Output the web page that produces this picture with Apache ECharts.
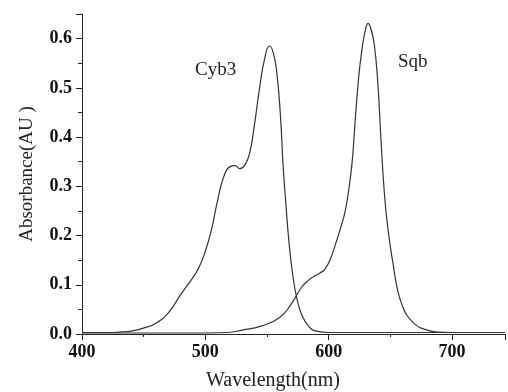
<!DOCTYPE html>
<html>
<head>
<meta charset="utf-8">
<script src="https://cdn.jsdelivr.net/npm/echarts@6/dist/echarts.min.js"></script>
<style>
  html, body { margin: 0; padding: 0; background: #fff; }
  #chart { width: 508px; height: 392px; }
</style>
</head>
<body>
<div id="chart"></div>
<script>
// Cyb3 absorbance, wavelength (nm) -> absorbance
var cyb3Wl = [400, 420, 430, 440, 450, 460, 470, 480, 490, 495, 500, 505, 510, 515, 520, 524, 528, 532, 536, 540, 544, 548, 552, 555, 558, 561, 563, 565, 568, 571, 574, 578, 584, 590, 600, 650, 743];
var cyb3Abs = [0.003, 0.003, 0.004, 0.006, 0.012, 0.022, 0.043, 0.080, 0.115, 0.136, 0.168, 0.212, 0.272, 0.320, 0.340, 0.342, 0.336, 0.343, 0.368, 0.428, 0.500, 0.558, 0.585, 0.572, 0.530, 0.440, 0.345, 0.275, 0.182, 0.118, 0.075, 0.040, 0.015, 0.006, 0.003, 0.003, 0.003];

// Sqb absorbance
var sqbWl = [400, 500, 518, 530, 545, 560, 570, 578, 584, 588, 593, 597, 601, 605, 609, 613, 616, 619, 621, 624, 627, 630, 632, 634, 637, 640, 642, 644, 646, 648, 650, 652, 656, 660, 664, 670, 675, 688, 700, 743];
var sqbAbs = [0.002, 0.002, 0.003, 0.008, 0.016, 0.033, 0.062, 0.095, 0.110, 0.117, 0.124, 0.132, 0.150, 0.178, 0.210, 0.245, 0.288, 0.348, 0.415, 0.512, 0.578, 0.620, 0.631, 0.622, 0.588, 0.505, 0.415, 0.328, 0.262, 0.215, 0.178, 0.146, 0.088, 0.056, 0.036, 0.020, 0.012, 0.004, 0.003, 0.003];

var xMin = 400, xMax = 743, xStep = 100;
var yMin = 0, yMax = 0.65, yStep = 0.1;

function pairs(xs, ys) {
    return xs.map(function (x, i) { return [x, ys[i]]; });
}

var serif = '"Liberation Serif", "DejaVu Serif", serif';
var chart = echarts.init(document.getElementById('chart'));

chart.setOption({
    animation: false,
    backgroundColor: '#fff',
    grid: { left: 82, right: 0, top: 14, bottom: 58 },
    xAxis: {
        type: 'value',
        min: xMin,
        max: xMax,
        interval: xStep,
        axisLine: { lineStyle: { color: '#222', width: 1 } },
        axisTick: { length: 6, lineStyle: { color: '#222' } },
        minorTick: { show: true, splitNumber: 2, length: 3, lineStyle: { color: '#222' } },
        splitLine: { show: false },
        axisLabel: {
            margin: 9,
            fontFamily: serif,
            fontWeight: 'bold',
            fontSize: 18,
            color: '#111',
            formatter: function (v) { return v % 100 === 0 ? String(v) : ''; }
        }
    },
    yAxis: {
        type: 'value',
        min: yMin,
        max: yMax,
        interval: yStep,
        axisLine: { show: true, lineStyle: { color: '#222', width: 1 } },
        axisTick: { show: true, length: 6, lineStyle: { color: '#222' } },
        minorTick: { show: true, splitNumber: 2, length: 4, lineStyle: { color: '#222' } },
        splitLine: { show: false },
        axisLabel: {
            margin: 10,
            fontFamily: serif,
            fontWeight: 'bold',
            fontSize: 18,
            color: '#111',
            formatter: function (v) {
                var r = Math.round(v * 10) / 10;
                return Math.abs(r - v) < 1e-6 ? r.toFixed(1) : '';
            }
        }
    },
    graphic: [
        { type: 'text', x: 273, y: 381, style: { text: 'Wavelength(nm)', font: '20px ' + serif, fill: '#222', textAlign: 'center', textVerticalAlign: 'middle' } },
        { type: 'text', x: 27, y: 174, rotation: Math.PI / 2, style: { text: 'Absorbance(AU )', font: '19px ' + serif, fill: '#222', textAlign: 'center', textVerticalAlign: 'middle' } },
        { type: 'text', x: 195, y: 70, style: { text: 'Cyb3', font: '19px ' + serif, fill: '#222', textVerticalAlign: 'middle' } },
        { type: 'text', x: 398, y: 62, style: { text: 'Sqb', font: '19px ' + serif, fill: '#222', textVerticalAlign: 'middle' } }
    ],
    series: [
        { name: 'Cyb3', data: pairs(cyb3Wl, cyb3Abs) },
        { name: 'Sqb', data: pairs(sqbWl, sqbAbs) }
    ].map(function (s) {
        return Object.assign({
            type: 'line',
            smooth: 0.5,
            symbol: 'none',
            lineStyle: { color: '#333', width: 1.2 }
        }, s);
    })
});
</script>
</body>
</html>
